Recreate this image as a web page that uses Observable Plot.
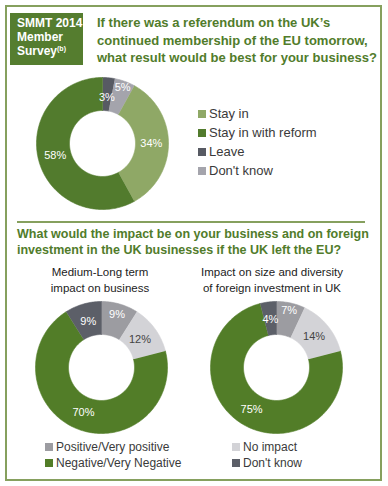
<!DOCTYPE html>
<html>
<head>
<meta charset="utf-8">
<script src="https://cdn.jsdelivr.net/npm/d3@7"></script>
<script src="https://cdn.jsdelivr.net/npm/@observablehq/plot@0.6"></script>
<style>
  html, body { margin: 0; padding: 0; background: #fff; }
  #root { position: relative; width: 388px; height: 486px; overflow: hidden; font-family: "Liberation Sans", Arial, sans-serif; color: #333; }
  .abs { position: absolute; }
  #frame { left: 5px; top: 5px; width: 377px; height: 476px; box-sizing: border-box; border: 2px solid #86a05e; }
  #badge { left: 10px; top: 13px; width: 73px; height: 52px; background: #557d2f; color: #fff; font-weight: bold; font-size: 12px; line-height: 14px; padding: 3px 0 0 7px; box-sizing: border-box; }
  #badge sup { font-size: 7px; vertical-align: 4px; line-height: 0; }
  .title { color: #517c2b; font-weight: bold; font-size: 13.5px; white-space: nowrap; }
  .title span { display: inline-block; }
  #q1 { left: 97px; top: 14px; line-height: 17.5px; }
  #sep { left: 17px; top: 221px; width: 348px; height: 1.5px; background: #86a05e; }
  #q2 { left: 17px; top: 227px; line-height: 15.5px; }
  .sub { top: 264px; width: 170px; text-align: center; font-size: 11.5px; line-height: 16px; color: #222; }
  .legend div { white-space: nowrap; }
  .legend span.sw { display: inline-block; width: 8px; height: 8px; margin-right: 3px; vertical-align: 0px; }
  #leg1 { left: 198px; top: 103.5px; font-size: 13px; line-height: 19px; color: #3a3a3a; }
  .leg2 { top: 439px; font-size: 12px; line-height: 16px; color: #3a3a3a; }
  svg { position: absolute; }
</style>
</head>
<body>
<div id="root">
  <div id="frame" class="abs"></div>
  <div id="badge" class="abs">SMMT 2014<br>Member<br>Survey<sup>(b)</sup></div>
  <div id="q1" class="abs title"></div>
  <div id="sep" class="abs"></div>
  <div id="q2" class="abs title"></div>
  <div id="subA" class="abs sub"></div>
  <div id="subB" class="abs sub"></div>
  <div id="leg1" class="abs legend"></div>
  <div id="leg2a" class="abs legend leg2"></div>
  <div id="leg2b" class="abs legend leg2"></div>
</div>
<script>
// ---- Data ----
const q1Lines = ["If there was a referendum on the UK\u2019s", "continued membership of the EU tomorrow,", "what result would be best for your business?"];
const q2Lines = ["What would the impact be on your business and on foreign", "investment in the UK businesses if the UK left the EU?"];
const subALines = ["Medium-Long term", "impact on business"];
const subBLines = ["Impact on size and diversity", "of foreign investment in UK"];

const referendumCategories = ["Stay in", "Stay in with reform", "Leave", "Don't know"];
const referendumValues = [34, 58, 3, 5];
const referendumClockwise = ["Leave", "Don't know", "Stay in", "Stay in with reform"];

const impactCategories = ["Positive/Very positive", "No impact", "Negative/Very Negative", "Don't know"];
const businessValues = [9, 12, 70, 9];
const investmentValues = [7, 14, 75, 4];
const impactClockwise = ["Positive/Very positive", "No impact", "Negative/Very Negative", "Don't know"];

// ---- Styles ----
const referendumColors = ["#8fa866", "#527b2d", "#575a63", "#a4a4ac"];
const impactColors = ["#9c9ca1", "#d3d3d7", "#527d28", "#5c5f68"];
const darkLabelKeys = ["No impact"];

const root = document.getElementById("root");

function fitLines(id, lines, target) {
  const el = document.getElementById(id);
  el.innerHTML = lines.map(l => `<span>${l}</span>`).join("<br>");
  const w = Math.max(...[...el.querySelectorAll("span")].map(s => s.getBoundingClientRect().width));
  const fs = parseFloat(getComputedStyle(el).fontSize);
  el.style.fontSize = (fs * target / w).toFixed(2) + "px";
}
fitLines("q1", q1Lines, 280);
fitLines("q2", q2Lines, 352);

document.getElementById("subA").innerHTML = subALines.join("<br>");
document.getElementById("subB").innerHTML = subBLines.join("<br>");
document.getElementById("subA").style.left = "15px";
document.getElementById("subB").style.left = "187px";

function legendHTML(cats, colors, allCats) {
  return cats.map(c => `<div><span class="sw" style="background:${colors[allCats.indexOf(c)]}"></span>${c}</div>`).join("");
}
document.getElementById("leg1").innerHTML = legendHTML(referendumCategories, referendumColors, referendumCategories);
document.getElementById("leg2a").innerHTML = legendHTML([impactCategories[0], impactCategories[2]], impactColors, impactCategories);
document.getElementById("leg2b").innerHTML = legendHTML([impactCategories[1], impactCategories[3]], impactColors, impactCategories);
document.getElementById("leg2a").style.left = "45px";
document.getElementById("leg2b").style.left = "232px";

const SIZE = 140, R = 66, INNER = 0.5, LABEL_R = 0.74;
const D = SIZE / 2 / R;

function donut(cats, values, clockwise, colors, left, top, labelRadius) {
  const data = clockwise.map(k => ({key: k, value: values[cats.indexOf(k)]}));
  const arcs = d3.pie().sort(null).value(d => d.value)(data);
  const pts = [];
  for (const a of arcs) {
    const n = Math.max(2, Math.ceil((a.endAngle - a.startAngle) / 0.02));
    for (let i = 0; i <= n; i++) {
      const t = a.startAngle + (a.endAngle - a.startAngle) * i / n;
      pts.push({key: a.data.key, x: Math.sin(t), y: Math.cos(t)});
    }
    for (let i = n; i >= 0; i--) {
      const t = a.startAngle + (a.endAngle - a.startAngle) * i / n;
      pts.push({key: a.data.key, x: INNER * Math.sin(t), y: INNER * Math.cos(t)});
    }
  }
  const labels = arcs.map(a => {
    const m = (a.startAngle + a.endAngle) / 2;
    const r = labelRadius[a.data.key] ?? LABEL_R;
    return {key: a.data.key, label: a.data.value + "%", x: r * Math.sin(m), y: r * Math.cos(m)};
  });
  const svg = Plot.plot({
    width: SIZE, height: SIZE, margin: 0,
    style: {background: "transparent", fontFamily: "Liberation Sans, Arial, sans-serif"},
    x: {domain: [-D, D], axis: null},
    y: {domain: [-D, D], axis: null},
    color: {domain: cats, range: colors},
    marks: [
      Plot.line(pts, {x: "x", y: "y", z: "key", fill: "key", stroke: "key", strokeWidth: 0.6, curve: "linear"}),
      Plot.text(labels.filter(d => !darkLabelKeys.includes(d.key)), {x: "x", y: "y", text: "label", fill: "white", fontSize: 11}),
      Plot.text(labels.filter(d => darkLabelKeys.includes(d.key)), {x: "x", y: "y", text: "label", fill: "#444", fontSize: 11})
    ]
  });
  svg.style.left = left + "px";
  svg.style.top = top + "px";
  root.insertBefore(svg, document.getElementById("leg1"));
}

donut(referendumCategories, referendumValues, referendumClockwise, referendumColors, 102 - SIZE / 2, 142.5 - SIZE / 2,
      {"Don't know": 0.9, "Leave": 0.7});
donut(impactCategories, businessValues, impactClockwise, impactColors, 101 - SIZE / 2, 367 - SIZE / 2,
      {"Positive/Very positive": 0.84, "Don't know": 0.72, "No impact": 0.72});
donut(impactCategories, investmentValues, impactClockwise, impactColors, 276 - SIZE / 2, 367 - SIZE / 2,
      {"Positive/Very positive": 0.88, "Don't know": 0.74});
</script>
</body>
</html>
